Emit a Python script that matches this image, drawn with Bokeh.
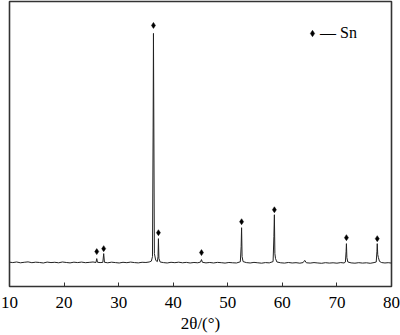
from bokeh.plotting import figure
from bokeh.models import ColumnDataSource, Range1d, Legend, LegendItem, FixedTicker
from bokeh.embed import file_html
from bokeh.resources import INLINE

# XRD pattern (2θ in degrees, intensity in a.u.)
two_theta = [10.0, 10.6, 11.3, 12.0, 12.7, 13.4, 14.1, 14.8, 15.5, 16.2, 16.9, 17.6,
             18.3, 19.0, 19.7, 20.4, 21.1, 21.8, 22.5, 23.2, 23.9, 24.6, 25.3, 25.85,
             25.99, 26.12, 26.6, 27.1, 27.26, 27.4, 28.0, 28.7, 29.4, 30.1, 30.8, 31.5,
             32.2, 32.9, 33.6, 34.3, 35.0, 35.6, 36.0, 36.2, 36.32, 36.38, 36.46, 36.55,
             36.8, 37.1, 37.22, 37.29, 37.38, 37.6, 38.2, 38.9, 39.6, 40.3, 41.0, 41.7,
             42.4, 43.1, 43.8, 44.5, 45.0, 45.18, 45.35, 46.0, 46.7, 47.4, 48.1, 48.8,
             49.5, 50.2, 50.9, 51.6, 52.3, 52.45, 52.53, 52.62, 52.8, 53.4, 54.1, 54.8,
             55.5, 56.2, 56.9, 57.6, 58.3, 58.45, 58.54, 58.63, 58.75, 59.0, 59.7, 60.4,
             61.1, 61.8, 62.5, 63.2, 63.8, 64.1, 64.4, 65.1, 65.8, 66.5, 67.2, 67.9,
             68.6, 69.3, 70.0, 70.7, 71.3, 71.55, 71.68, 71.74, 71.82, 72.0, 72.6, 73.3,
             74.0, 74.7, 75.4, 76.1, 76.8, 77.2, 77.33, 77.39, 77.48, 77.6, 77.8, 78.2,
             78.8, 79.4, 80.0]
intensity = [244, 240, 246, 238, 243, 247, 239, 244, 241, 236, 245, 240,
             243, 238, 246, 241, 237, 244, 240, 245, 239, 242, 246, 241,
             280, 243, 240, 242, 330, 243, 238, 244, 240, 236, 243, 239,
             245, 240, 237, 243, 241, 246, 255, 300, 1600, 2540, 1500, 330,
             262, 250, 300, 480, 282, 246, 240, 236, 243, 239, 244, 238,
             242, 236, 241, 238, 245, 270, 243, 237, 241, 236, 242, 239,
             235, 241, 238, 236, 248, 400, 590, 300, 250, 240, 236, 242,
             238, 234, 240, 237, 250, 500, 720, 330, 280, 246, 238, 235,
             241, 236, 239, 234, 240, 262, 238, 235, 240, 236, 233, 239,
             235, 238, 234, 240, 236, 245, 350, 430, 290, 246, 237, 234,
             239, 235, 238, 233, 240, 246, 350, 430, 320, 290, 252, 240,
             236, 239, 235]

# Sn reflections marked with diamonds
sn_peaks = [25.99, 27.26, 36.38, 37.29, 45.18, 52.53, 58.54, 71.74, 77.39]
sn_marks = [350, 380, 2620, 540, 340, 650, 770, 490, 480]

x_ticks = [10, 20, 30, 40, 50, 60, 70, 80]
x_title = "2θ/(°)"
legend_text = "— Sn"

trace = ColumnDataSource(data=dict(x=two_theta, y=intensity))
marks = ColumnDataSource(data=dict(x=sn_peaks, y=sn_marks))

p = figure(width=400, height=335, output_backend="svg", toolbar_location=None,
           x_range=Range1d(10, 80), y_range=Range1d(0, 2860),
           min_border_left=9, min_border_right=9, min_border_top=1, min_border_bottom=48)

p.line("x", "y", source=trace, line_color="#222222", line_width=1)
r_sn = p.scatter("x", "y", source=marks, marker="diamond", size=6,
                 fill_color="black", line_color="black", line_width=0.5)

p.grid.visible = False
p.yaxis.visible = False
p.outline_line_color = "#333333"
p.outline_line_width = 1.6
p.background_fill_color = "white"
p.border_fill_color = "white"

ax = p.xaxis[0]
ax.ticker = FixedTicker(ticks=x_ticks)
ax.axis_line_color = None
ax.major_tick_in = 4
ax.major_tick_out = 0
ax.major_tick_line_color = "#333333"
ax.minor_tick_line_color = None
ax.major_label_text_font = "Liberation Serif"
ax.major_label_text_font_size = "17px"
ax.major_label_text_color = "black"
ax.major_label_standoff = 10
ax.axis_label = x_title
ax.axis_label_text_font = "Liberation Serif"
ax.axis_label_text_font_size = "17px"
ax.axis_label_text_font_style = "normal"
ax.axis_label_text_color = "black"
ax.axis_label_standoff = 3

legend = Legend(items=[LegendItem(label=legend_text, renderers=[r_sn])],
                location=(295, 243), padding=0, margin=0, spacing=0,
                glyph_width=16, glyph_height=20, label_height=20, label_standoff=0,
                label_text_font="Liberation Serif", label_text_font_size="16px",
                label_text_color="black",
                background_fill_alpha=0, border_line_alpha=0)
p.add_layout(legend, "center")

open("out.html", "w").write(file_html(p, INLINE))
